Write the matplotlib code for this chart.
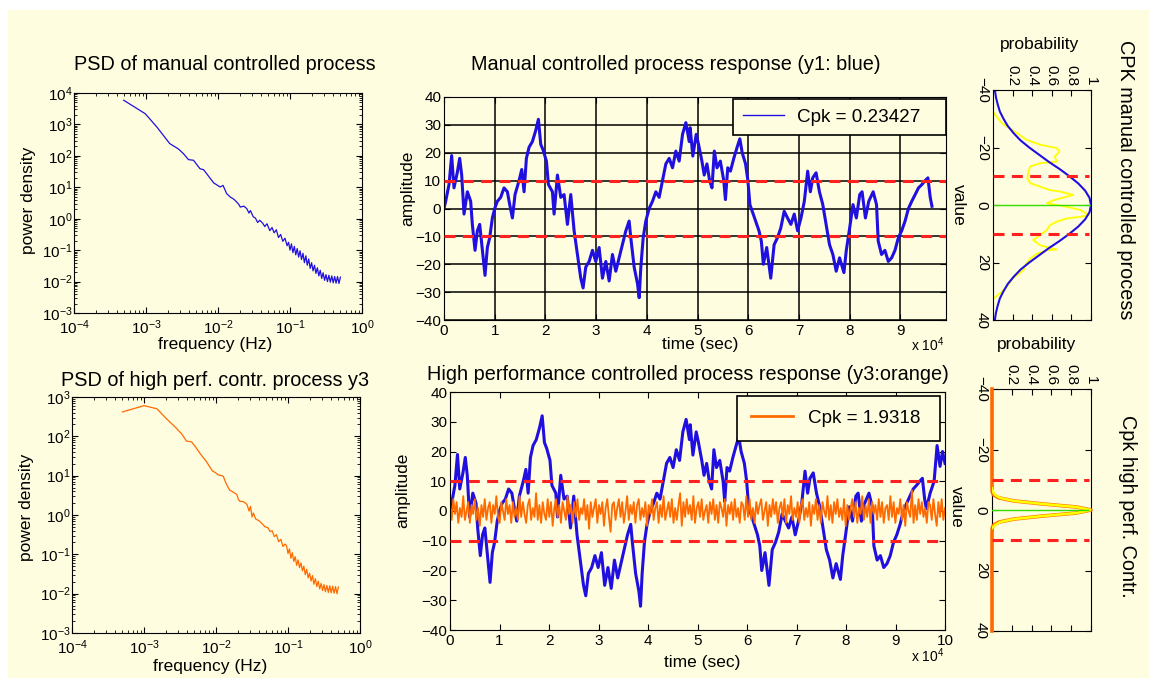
import numpy as np
import matplotlib
matplotlib.use("Agg")
import matplotlib.pyplot as plt
from matplotlib.patches import Rectangle
from matplotlib.ticker import LogLocator, NullFormatter

plt.rcParams['font.family'] = ['Liberation Sans', 'DejaVu Sans']
plt.rcParams['mathtext.default'] = 'regular'

W, H = 1149, 678
BG = '#fffde0'
BLUE = '#2010e0'
ORANGE = '#ff6a00'
RED = '#ff2020'
YELLOW = '#ffff00'
GREEN = '#33dd00'

# ---- PSD of manual controlled process (log10 f, log10 P) ----
psd1_logf = [-3.31, -3.01, -2.85, -2.67, -2.55, -2.48, -2.41, -2.34, -2.25, -2.20,
             -2.13, -2.06, -1.97, -1.93, -1.88, -1.83, -1.78, -1.74, -1.71, -1.69,
             -1.64, -1.60, -1.57, -1.55, -1.51, -1.48, -1.45, -1.42, -1.38, -1.35,
             -1.32, -1.28, -1.25, -1.22, -1.19, -1.16, -1.13, -1.10, -1.07, -1.04,
             -1.02, -1.00, -0.98, -0.96, -0.94, -0.92, -0.90, -0.88, -0.86, -0.84,
             -0.82, -0.80, -0.78, -0.76, -0.74, -0.72, -0.70, -0.68, -0.66, -0.64,
             -0.62, -0.60, -0.58, -0.56, -0.54, -0.52, -0.50, -0.48, -0.46, -0.44,
             -0.42, -0.40, -0.38, -0.36, -0.34, -0.32, -0.30]
psd1_logp = [3.77, 3.34, 2.92, 2.39, 2.22, 2.07, 1.88, 1.86, 1.59, 1.56,
             1.35, 1.14, 1.01, 1.06, 0.80, 0.69, 0.62, 0.53, 0.45, 0.37,
             0.40, 0.32, 0.18, 0.26, 0.06, 0.02, -0.12, -0.05, -0.14, -0.25,
             -0.16, -0.38, -0.28, -0.45, -0.35, -0.60, -0.50, -0.72, -0.62, -0.86,
             -0.75, -1.00, -0.80, -1.08, -0.88, -1.15, -0.95, -1.22, -1.02, -1.30,
             -1.10, -1.40, -1.18, -1.48, -1.28, -1.58, -1.40, -1.66, -1.48, -1.74,
             -1.56, -1.82, -1.64, -1.90, -1.72, -1.96, -1.78, -2.00, -1.80, -2.02,
             -1.82, -2.04, -1.84, -2.05, -1.84, -2.06, -1.86]

# ---- PSD of high performance controlled process y3 ----
psd3_logf = [-3.30, -3.00, -2.82, -2.69, -2.58, -2.48, -2.41, -2.34, -2.28, -2.22,
             -2.13, -2.05, -2.01, -1.97, -1.90, -1.86, -1.81, -1.76, -1.71, -1.69,
             -1.67, -1.62, -1.57, -1.54, -1.52, -1.50, -1.48, -1.45, -1.40, -1.36,
             -1.32, -1.28, -1.25, -1.22, -1.19, -1.16, -1.13, -1.10, -1.07, -1.04,
             -1.02, -1.00, -0.98, -0.96, -0.94, -0.92, -0.90, -0.88, -0.86, -0.84,
             -0.82, -0.80, -0.78, -0.76, -0.74, -0.72, -0.70, -0.68, -0.66, -0.64,
             -0.62, -0.60, -0.58, -0.56, -0.54, -0.52, -0.50, -0.48, -0.46, -0.44,
             -0.42, -0.40, -0.38, -0.36, -0.34, -0.32, -0.30]
psd3_logp = [2.62, 2.78, 2.70, 2.45, 2.26, 2.07, 1.88, 1.86, 1.72, 1.56,
             1.35, 1.12, 1.08, 1.02, 0.99, 0.80, 0.63, 0.58, 0.52, 0.40,
             0.35, 0.34, 0.27, 0.10, 0.22, -0.05, 0.05, -0.10, -0.15, -0.22,
             -0.30, -0.32, -0.42, -0.40, -0.55, -0.50, -0.68, -0.62, -0.80, -0.74,
             -0.78, -0.98, -0.86, -1.10, -0.96, -1.18, -1.06, -1.28, -1.14, -1.34,
             -1.22, -1.42, -1.30, -1.52, -1.38, -1.60, -1.48, -1.68, -1.54, -1.76,
             -1.62, -1.82, -1.68, -1.88, -1.74, -1.92, -1.77, -1.95, -1.79, -1.97,
             -1.80, -1.98, -1.81, -1.99, -1.82, -2.00, -1.83]

# ---- manual controlled process response y1 (time in units of 1e4 s) ----
y1_t = [0.0, 0.033, 0.099, 0.151, 0.197, 0.263, 0.309, 0.349, 0.395, 0.461,
        0.526, 0.559, 0.612, 0.658, 0.704, 0.757, 0.809, 0.855, 0.901, 0.954,
        1.0, 1.053, 1.118, 1.184, 1.25, 1.296, 1.349, 1.401, 1.48, 1.533,
        1.579, 1.625, 1.678, 1.743, 1.809, 1.862, 1.908, 1.954, 2.02, 2.059,
        2.138, 2.171, 2.237, 2.303, 2.368, 2.434, 2.5, 2.566, 2.632, 2.697,
        2.743, 2.796, 2.862, 2.928, 2.993, 3.059, 3.125, 3.191, 3.257, 3.322,
        3.388, 3.454, 3.52, 3.586, 3.651, 3.684, 3.75, 3.816, 3.849, 3.882,
        3.928, 3.98, 4.046, 4.112, 4.178, 4.243, 4.309, 4.375, 4.441, 4.507,
        4.572, 4.638, 4.704, 4.77, 4.836, 4.854, 4.907, 4.974, 5.02, 5.086,
        5.132, 5.185, 5.238, 5.285, 5.331, 5.384, 5.45, 5.517, 5.55, 5.596,
        5.649, 5.715, 5.781, 5.834, 5.881, 5.947, 5.993, 6.033, 6.079, 6.146,
        6.212, 6.258, 6.298, 6.364, 6.444, 6.51, 6.576, 6.642, 6.709, 6.775,
        6.841, 6.907, 6.974, 7.04, 7.106, 7.172, 7.225, 7.272, 7.338, 7.404,
        7.47, 7.536, 7.603, 7.669, 7.735, 7.801, 7.887, 7.934, 8.0, 8.066,
        8.132, 8.199, 8.245, 8.311, 8.377, 8.464, 8.53, 8.563, 8.629, 8.695,
        8.762, 8.828, 8.894, 8.96, 9.026, 9.093, 9.159, 9.225, 9.291, 9.358,
        9.424, 9.49, 9.543, 9.589, 9.623, 9.7, 9.78, 9.84, 9.9, 9.95, 10.0]
y1_v = [0, 2.6, 8.6, 19, 7.4, 13, 18, 12, -2, 6,
        2.6, -5.7, -15, -8, -5.7, -15, -24, -14, -10.5, -3.4,
        0, 2.6, 4, 7.4, 6, 1.4, -3.4, 5, 10, 14,
        6, 18, 22, 24, 28, 32, 23, 21, 17, 8.6,
        6, -2, 12, 4, 5, -5.7, 5, -8, -16.5, -25,
        -28.5, -21, -19, -15, -19, -14, -25, -19, -26, -16.5,
        -22.5, -17.7, -13, -8, -4.5, -10.5, -21, -27, -32, -21,
        -10.5, -4.5, 0, 2.6, 6, 4, 10, 16, 18, 14.6,
        20.6, 17, 26.6, 30.8, 24, 29, 18.8, 26.6, 23, 17,
        12, 16, 10, 7.4, 20.6, 14.6, 17, 10, 3.2, 14.6,
        13.4, 18, 22, 25, 20, 16, 10, 1.4, -1, -4.5,
        -8, -11.7, -20, -14, -25, -13, -10.5, -7, -1, -3.4,
        -5.7, -2, -8, -3.4, 2.6, 13.4, 6, 11, 12.8, 6,
        1.4, -5.7, -13, -16.5, -22.5, -17.7, -23, -15, -7, 1.4,
        -3.4, 5, 6, -3.4, 2.6, 6, 1.4, -11.7, -16.5, -15,
        -19, -17.7, -15, -10.5, -8, -4.5, 0, 2.6, 5, 7.4,
        8.6, 10, 11, 4, 0.8, 6, 10, 22, 15, 20, 16]
y1_end_top = 9.623  # top plot shows data up to here

# ---- high performance controlled process response y3 ----
y3_v = [2, -3, 4, -1, 3, -4, 1, -2, 5, -3, 0, 3, -4, 2, -1, 4, -3, 1, -5, 2,
        -2, 4, -3, 1, 3, -4, 2, -1, 5, -2, -4, 3, 0, -3, 4, -1, 2, -4, 3, -2,
        1, -3, 5, -2, 3, -1, -4, 2, 4, -3, 1, -2, 6, -3, 2, -4, 3, -1, -3, 4,
        -2, 3, -5, 1, 4, -2, 2, -4, 3, 0, -3, 5, -1, 2, -4, 3, -2, 4, -3, 1,
        -1, 4, -3, 2, -6, 3, -2, 1, 4, -4, 2, -1, 3, -5, 1, 4, -2, -7, 2, 3,
        -3, 1, 4, -2, 3, -4, 0, 5, -3, 2, -1, 3, -4, 2, 4, -3, 1, -2, 3, -5,
        2, -1, 4, -3, 1, 3, -4, 2, -2, 5, -3, 0, 3, -2, 4, -4, 1, -3, 2, 6,
        -5, 3, -2, 4, -1, 2, -3, 5, -4, 1, 3, -2, 4, -3, 0, 2, -4, 3, -1, 4,
        -3, 2, -4, 3, 1, -2, 4, -5, 2, -1, 3, -3, 4, -2, 1, -4, 3, 2, -3, 5,
        -2, 4, -3, 1, -4, 3, -1, 2, 4, -3, 0, 3, -5, 2, -2, 4, -1, 3, -4, 1,
        3, -2, 4, -4, 2, -1, 5, -3, 1, -2, 3, -4, 2, 4, -3, 1, -2, 3, -5, 2,
        -1, 4, -3, 2, -4, 3, 0, -2, 5, -3, 2, -4, 3, -1, 4, -2, 1, -3, 4, -5,
        2, -3, 1, 4, -2, 3, -4, 1, -1, 5, -3, 2, -2, 4, -4, 3, -1, 2, -3, 4,
        -2, 3, -4, 1, 2, -3, 5, -2, 3, -4, 1, -1, 4, -3, 2, -5, 3, 0, -2, 7,
        -4, 2, -3, 4, -1, 3, -2, 1, -4, 3, 2, -3, 4, -1, -5, 3, -2, 4, -3, 1]
y3_duration = 1e5

spec_limits = [-10, 10]
target = 0
cpk_y1 = 0.23427
cpk_y3 = 1.9318

# ---- CPK distribution y1 ----
hist1_v = [-32.5, -31, -28.5, -27.3, -26, -24.4, -22.7, -21, -19.8, -18.6,
           -16.9, -15.1, -14.5, -13.4, -11.6, -9.3, -7.6, -6.4, -5.2, -4.7,
           -4.1, -3.5, -1.7, -0.6, 0.6, 1.7, 3.5, 4.1, 4.7, 5.8,
           7.0, 8.7, 10.5, 12.2, 14.0, 15.5, 15.7, 16.9, 18.6, 20.3,
           22.7, 25.6, 28.5, 30.8, 32.6]
hist1_p = [0.0, 0.03, 0.09, 0.14, 0.20, 0.27, 0.34, 0.48, 0.65, 0.68,
           0.63, 0.65, 0.48, 0.38, 0.36, 0.35, 0.38, 0.48, 0.58, 0.68,
           0.75, 0.82, 0.62, 0.55, 0.75, 0.89, 0.98, 0.89, 0.75, 0.65,
           0.58, 0.55, 0.48, 0.41, 0.48, 0.65, 0.55, 0.45, 0.38, 0.34,
           0.31, 0.20, 0.14, 0.07, 0.0]
fit1_v = [-40, -37.5, -35, -32.5, -30, -27.5, -25, -22.5, -20, -17.5, -15, -12.5,
          -10, -7.5, -5, -2.5, 0, 2.5, 5, 7.5, 10, 12.5, 15, 17.5, 20, 22.5,
          25, 27.5, 30, 32.5, 35, 37.5, 40]
fit1_p = [0.019, 0.03, 0.048, 0.07, 0.107, 0.15, 0.21, 0.28, 0.37, 0.47, 0.57, 0.68,
          0.78, 0.87, 0.94, 0.985, 1.0, 0.985, 0.94, 0.87, 0.78, 0.68, 0.57, 0.47,
          0.37, 0.28, 0.21, 0.15, 0.107, 0.07, 0.048, 0.03, 0.019]

# ---- CPK distribution y3 ----
hist3_v = [-7.2, -6, -5, -4, -3, -2, -1, 0, 1, 2, 3, 4, 5, 6]
hist3_p = [0.0, 0.01, 0.03, 0.08, 0.22, 0.51, 0.85, 1.0, 0.85, 0.51, 0.22, 0.08, 0.03, 0.0]
fit3_v = [-40, -8, -7, -6, -5, -4, -3, -2, -1, 0, 1, 2, 3, 4, 5, 6, 7, 8, 40]
fit3_p = [0, 0, 0.001, 0.002, 0.015, 0.07, 0.22, 0.51, 0.85, 1.0, 0.85, 0.51,
          0.22, 0.07, 0.015, 0.002, 0.001, 0, 0]


def rect(x0, y0, x1, y1):
    return [x0 / W, 1 - y1 / H, (x1 - x0) / W, (y1 - y0) / H]


def ftext(x, y, s, **kw):
    kw.setdefault('ha', 'center')
    kw.setdefault('va', 'center')
    fig.text(x / W, 1 - y / H, s, **kw)


TITLE = 14.3
LABEL = 12.5
TICK = 11

fig = plt.figure(figsize=(W / 100, H / 100), dpi=100, facecolor='white')
fig.add_artist(Rectangle((8 / W, 0), 1 - 8 / W, 1 - 10 / H, transform=fig.transFigure,
                         facecolor=BG, edgecolor='none', zorder=-5))


def psd_axes(r, logf, logp, color, ytop):
    ax = fig.add_axes(r, facecolor=BG)
    ax.loglog(10 ** np.array(logf), 10 ** np.array(logp), color=color, lw=0.9)
    ax.set_xlim(1e-4, 1)
    ax.set_ylim(1e-3, ytop)
    ax.xaxis.set_major_locator(LogLocator(base=10, numticks=10))
    ax.yaxis.set_major_locator(LogLocator(base=10, numticks=10))
    ax.xaxis.set_minor_locator(LogLocator(base=10, subs=np.arange(2, 10), numticks=20))
    ax.yaxis.set_minor_locator(LogLocator(base=10, subs=np.arange(2, 10), numticks=20))
    ax.xaxis.set_minor_formatter(NullFormatter())
    ax.yaxis.set_minor_formatter(NullFormatter())
    ax.tick_params(which='both', direction='in', top=True, right=True, labelsize=TICK)
    ax.tick_params(which='major', length=4)
    ax.tick_params(which='minor', length=2.5)
    ax.tick_params(axis='x', pad=4)
    ax.tick_params(axis='y', pad=1)
    return ax


psd_axes(rect(74, 93, 362, 313), psd1_logf, psd1_logp, BLUE, 1e4)
psd_axes(rect(72, 397, 360, 633), psd3_logf, psd3_logp, ORANGE, 1e3)

ftext(225, 64, 'PSD of manual controlled process', fontsize=TITLE)
ftext(215, 380, 'PSD of high perf. contr. process y3', fontsize=TITLE)
ftext(28, 200, 'power density', fontsize=LABEL, rotation=90)
ftext(27, 507, 'power density', fontsize=LABEL, rotation=90)
ftext(215, 344, 'frequency (Hz)', fontsize=LABEL)
ftext(210, 666, 'frequency (Hz)', fontsize=LABEL)

# ---- time responses ----
t_s = np.array(y1_t) * 1e4
v1 = np.array(y1_v)
top_mask = np.array(y1_t) <= y1_end_top


def time_axes(r, xmax, with_grid):
    ax = fig.add_axes(r, facecolor=BG)
    ax.set_xlim(0, xmax)
    ax.set_ylim(-40, 40)
    ticks = np.arange(0, xmax + 1, 1e4)
    ax.set_xticks(ticks)
    ax.set_xticklabels([str(int(v / 1e4)) for v in ticks])
    ax.set_yticks(np.arange(-40, 41, 10))
    ax.tick_params(direction='in', top=True, right=True, labelsize=TICK, length=4)
    ax.tick_params(axis='x', pad=3)
    ax.tick_params(axis='y', pad=2)
    if with_grid:
        ax.grid(True, color='black', lw=1.1)
    for s in spec_limits:
        ax.axhline(s, color=RED, lw=2.2, dashes=(3.6, 2.4), zorder=4)
    return ax


def style_legend(leg, handle_lw):
    leg.get_frame().set_linewidth(1.2)
    leg.legend_handles[0].set_linewidth(handle_lw)


ax_t1 = time_axes(rect(444, 97, 946, 320), 99000, True)
ax_t1.plot(t_s[top_mask], v1[top_mask], color=BLUE, lw=2.2,
           label='Cpk = %.5f   ' % cpk_y1)
leg = ax_t1.legend(loc='upper right', bbox_to_anchor=(1.0, 0.99), fontsize=13.6,
                   handlelength=2.2, handletextpad=0.7, borderpad=0.5, borderaxespad=0,
                   fancybox=False, framealpha=1, facecolor=BG, edgecolor='black')
style_legend(leg, 1.0)

ax_t3 = time_axes(rect(450, 392, 945, 630), 1e5, False)
ax_t3.plot(t_s, v1, color=BLUE, lw=2.2)
t3 = np.linspace(0, y3_duration, len(y3_v))
ax_t3.plot(t3, y3_v, color=ORANGE, lw=1.3, label='Cpk = %.4f ' % cpk_y3)
leg = ax_t3.legend(loc='upper right', bbox_to_anchor=(0.99, 0.985), fontsize=13.6,
                   handlelength=2.2, handletextpad=0.8, borderpad=0.75, borderaxespad=0,
                   fancybox=False, framealpha=1, facecolor=BG, edgecolor='black')
style_legend(leg, 2.0)

ftext(676, 65, 'Manual controlled process response (y1: blue)', fontsize=TITLE)
ftext(688, 375, 'High performance controlled process response (y3:orange)', fontsize=TITLE)
ftext(408, 188, 'amplitude', fontsize=LABEL, rotation=90)
ftext(403, 490, 'amplitude', fontsize=LABEL, rotation=90)
ftext(700, 345, 'time (sec)', fontsize=LABEL)
ftext(702, 662, 'time (sec)', fontsize=LABEL)
ftext(928, 345, r'x 10$^4$', fontsize=10)
ftext(928, 656, r'x 10$^4$', fontsize=10)


# ---- CPK distributions ----
def cpk_axes(r):
    ax = fig.add_axes(r, facecolor=BG)
    ax.set_xlim(0, 1)
    ax.set_ylim(40, -40)
    ax.set_xticks([0.2, 0.4, 0.6, 0.8, 1.0])
    ax.set_xticklabels(['0.2', '0.4', '0.6', '0.8', '1'])
    ax.set_yticks([-40, -20, 0, 20, 40])
    ax.xaxis.tick_top()
    ax.tick_params(direction='in', top=True, bottom=True, left=True, right=True,
                   labelsize=TICK, length=4)
    ax.tick_params(axis='x', labelrotation=-90, pad=3)
    ax.tick_params(axis='y', labelrotation=-90, pad=3)
    for lab in ax.get_yticklabels():
        lab.set_va('center')
    for s in spec_limits:
        ax.plot([0, 0.98], [s, s], color=RED, lw=2.2, dashes=(3.6, 2.4), zorder=4)
    return ax


ax_c1 = cpk_axes(rect(993, 90, 1091, 320))
ax_c1.plot(hist1_p, hist1_v, color=YELLOW, lw=1.3)
ax_c1.plot(fit1_p, fit1_v, color=BLUE, lw=1.5)
ax_c1.plot([0, 1], [target, target], color=GREEN, lw=1.0)

ax_c3 = cpk_axes(rect(992, 389, 1091, 631))
ax_c3.plot(fit3_p, fit3_v, color=ORANGE, lw=2.6, clip_on=False, zorder=3)
ax_c3.plot(hist3_p, hist3_v, color=YELLOW, lw=1.8, zorder=3.2)
ax_c3.plot([0, 0.97], [target, target], color=GREEN, lw=1.0, zorder=3.5)

ftext(1040, 44, 'probability', fontsize=LABEL)
ftext(1037, 345, 'probability', fontsize=LABEL)
ftext(958, 205, 'value', fontsize=LABEL, rotation=-90)
ftext(956, 507, 'value', fontsize=LABEL, rotation=-90)
ftext(1125, 180, 'CPK manual controlled process', fontsize=TITLE, rotation=-90)
ftext(1128, 506, 'Cpk high perf. Contr.', fontsize=TITLE, rotation=-90)

fig.savefig('out.png', dpi=100, facecolor=fig.get_facecolor())
